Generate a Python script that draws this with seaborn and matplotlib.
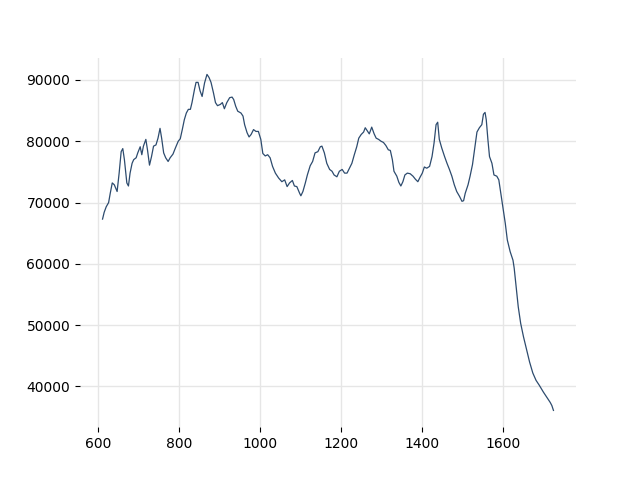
import matplotlib
matplotlib.use("Agg")
import matplotlib.pyplot as plt
import seaborn as sns
import pandas as pd

x_vals = [611, 615, 620, 626, 630, 635, 640, 647, 652, 657, 661, 665, 671, 675, 679, 684, 688, 694, 698,
          704, 708, 712, 718, 722, 727, 732, 737, 743, 748, 753, 757, 762, 767, 773, 778, 785, 791, 798,
          803, 808, 813, 818, 823, 828, 832, 838, 842, 847, 852, 857, 863, 869, 874, 879, 885, 890, 895,
          902, 907, 912, 918, 925, 931, 935, 940, 945, 953, 958, 962, 968, 973, 978, 984, 990,
          996, 1002, 1007, 1013, 1019, 1025, 1031, 1038, 1046, 1054, 1061, 1067, 1073, 1080, 1085, 1091,
          1098, 1101, 1106, 1112, 1117, 1124, 1130, 1136, 1143, 1149, 1153, 1159, 1165, 1172, 1178, 1183,
          1190, 1196, 1203, 1209, 1215, 1221, 1227, 1233, 1239, 1244, 1250, 1256, 1260, 1266, 1270, 1276,
          1282, 1287, 1293, 1299, 1305, 1311, 1317, 1322, 1327, 1331, 1338, 1343, 1348, 1353, 1358, 1364,
          1371, 1378, 1384, 1390, 1396, 1401, 1406, 1412, 1419,
          1425, 1430, 1435, 1439, 1443, 1449, 1456, 1462, 1468, 1474, 1480, 1486, 1493, 1499, 1503, 1507,
          1514, 1519, 1525, 1530, 1536, 1542, 1548, 1552, 1556, 1559, 1563, 1567, 1573, 1578, 1585, 1590,
          1595, 1600, 1606, 1611, 1618, 1625, 1628, 1633, 1638, 1644, 1651, 1658, 1666, 1674, 1682, 1690,
          1700, 1709, 1717, 1721, 1725]

y_vals = [67300, 68400, 69300, 70000, 71500, 73200, 72900, 71800, 74800, 78300, 78800, 77000, 73200, 72700,
          74800, 76400, 77000, 77300, 78100, 79100, 77800, 79200, 80300, 78600, 76100, 77500, 79200, 79400,
          80500, 82100, 80500, 78100, 77300, 76700, 77300, 77900, 78900, 80000, 80400, 81900, 83500, 84600,
          85200, 85200, 86300, 88400, 89600, 89600, 88200, 87300, 89500, 90900, 90400, 89600, 87900, 86300,
          85800, 86000, 86300, 85300, 86300, 87100, 87200, 86800, 85700, 84900, 84600, 84100, 82700, 81400,
          80700, 81100, 81900, 81600,
          81600, 80300, 78000, 77600, 77800, 77300, 75900, 74800, 74000, 73400, 73700, 72600, 73200, 73600,
          72700, 72600, 71500, 71100, 71800, 73200, 74500, 76000, 76700, 78100, 78300, 79100, 79200, 78100,
          76400, 75400, 75100, 74500, 74200, 75100, 75400, 74800, 74800, 75600, 76400, 77800, 79100, 80500,
          81100, 81500, 82200, 81600, 81200, 82300, 81200, 80500, 80300, 80000, 79800, 79300, 78600, 78500,
          77000, 75100, 74300, 73300, 72700, 73400, 74500, 74800, 74700, 74300, 73800, 73400, 74200, 74800,
          75800, 75600, 75900,
          77500, 79700, 82700, 83100, 80300, 78900, 77500, 76400, 75400, 74300, 72900, 71800, 71000, 70200,
          70300, 71500, 72900, 74300, 76200, 78600, 81500, 82200, 82700, 84400, 84700, 83500, 80300, 77500,
          76400, 74500, 74300, 73700, 71500, 69300, 66600, 63900, 62000, 60600, 59300, 56200, 53000, 50300,
          48100, 46200, 44000, 42200, 41000, 40200, 39100, 38200, 37400, 36900, 36100]

x_ticks = [600, 800, 1000, 1200, 1400, 1600]
y_ticks = [40000, 50000, 60000, 70000, 80000, 90000]

df = pd.DataFrame({"x": x_vals, "y": y_vals})

fig, ax = plt.subplots(figsize=(6.4, 4.8), dpi=100)
sns.lineplot(data=df, x="x", y="y", ax=ax, color="#2d4b6e", linewidth=0.9)

ax.set_xticks(x_ticks)
ax.set_yticks(y_ticks)
ax.set_xlabel("")
ax.set_ylabel("")
ax.grid(True, color="#e6e6e6", linewidth=1.0)
ax.set_axisbelow(True)
for s in ax.spines.values():
    s.set_visible(False)

fig.savefig("out.png", dpi=100)
